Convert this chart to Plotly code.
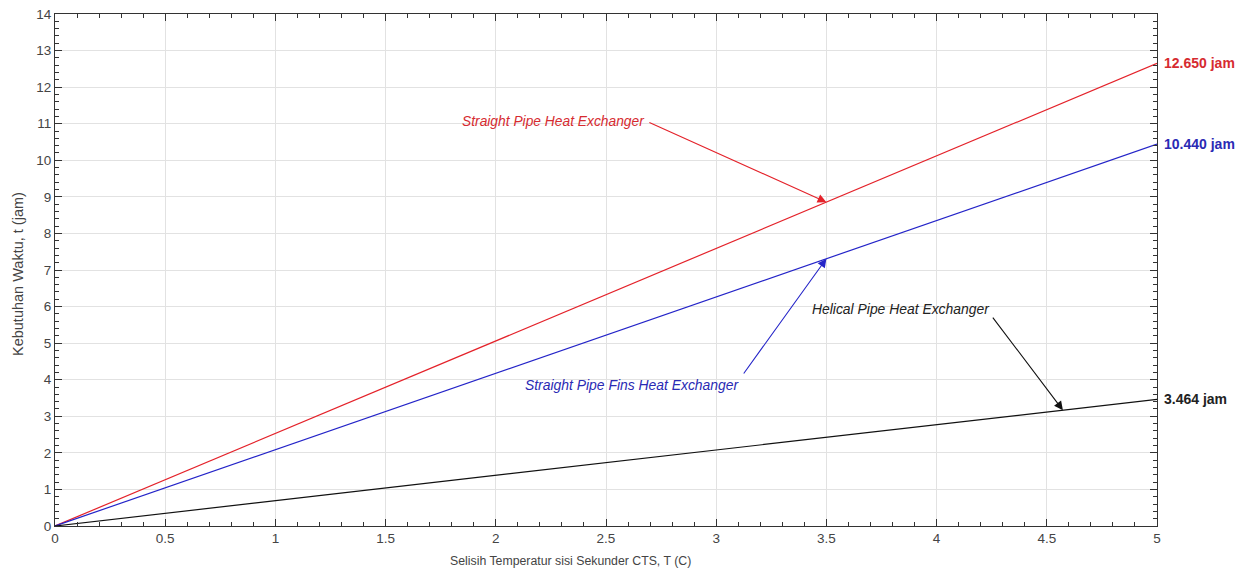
import plotly.graph_objects as go

# Data
temp_diff = [0, 5]
straight_pipe = [0, 12.650]
straight_fins = [0, 10.440]
helical_pipe = [0, 3.464]

end_labels = ["12.650 jam", "10.440 jam", "3.464 jam"]
series_names = ["Straight Pipe Heat Exchanger", "Straight Pipe Fins Heat Exchanger", "Helical Pipe Heat Exchanger"]
x_title = "Selisih Temperatur sisi Sekunder CTS, T (C)"
y_title = "Kebutuhan Waktu, t (jam)"

RED = "#e4222a"
BLUE = "#2424c8"
BLACK = "#111111"
RED_T = "#d62b30"
BLUE_T = "#2a2ab4"
BLACK_T = "#222222"

fig = go.Figure()
for yv, col, nm in [(straight_pipe, RED, series_names[0]),
                    (straight_fins, BLUE, series_names[1]),
                    (helical_pipe, BLACK, series_names[2])]:
    fig.add_trace(go.Scatter(x=temp_diff, y=yv, mode="lines", name=nm,
                             line=dict(color=col, width=1.2), showlegend=False))

font = "Liberation Sans, Arial, sans-serif"

anns = []
# end labels
for yv, lab, col in [(straight_pipe, end_labels[0], RED_T),
                     (straight_fins, end_labels[1], BLUE_T),
                     (helical_pipe, end_labels[2], BLACK_T)]:
    anns.append(dict(x=temp_diff[-1], y=yv[-1], xref="x", yref="y", text="<b>%s</b>" % lab,
                     showarrow=False, xanchor="left", xshift=5, yanchor="middle",
                     font=dict(family=font, size=14, color=col)))

# label texts
anns.append(dict(x=2.686, y=11.05, xref="x", yref="y", text="<i>%s</i>" % series_names[0],
                 showarrow=False, xanchor="right", yanchor="middle",
                 font=dict(family=font, size=13.8, color=RED_T)))
anns.append(dict(x=2.123, y=3.86, xref="x", yref="y", text="<i>%s</i>" % series_names[1],
                 showarrow=False, xanchor="left", yanchor="middle",
                 font=dict(family=font, size=13.9, color=BLUE_T)))
anns.append(dict(x=4.25, y=5.93, xref="x", yref="y", text="<i>%s</i>" % series_names[2],
                 showarrow=False, xanchor="right", yanchor="middle",
                 font=dict(family=font, size=13.9, color=BLACK_T)))

# arrows
for (hx, hy, tx, ty, col) in [(3.5, 8.855, 2.69, 11.05, RED),
                              (3.5, 7.31, 3.12, 4.13, BLUE),
                              (4.573, 3.168, 4.25, 5.74, BLACK)]:
    anns.append(dict(x=hx, y=hy, ax=tx, ay=ty, xref="x", yref="y", axref="x", ayref="y",
                     text="", showarrow=True, arrowhead=2, arrowsize=1.6, arrowwidth=1.1,
                     arrowcolor=col))

# axis titles
anns.append(dict(x=(570 - 55) / 1102, y=-35 / 512, xref="paper", yref="paper", text=x_title,
                 showarrow=False, xanchor="center", yanchor="middle",
                 font=dict(family=font, size=12.3, color="#444444")))
anns.append(dict(x=-37 / 1102, y=(526 - 274) / 512, xref="paper", yref="paper", text=y_title,
                 showarrow=False, xanchor="center", yanchor="middle", textangle=-90,
                 font=dict(family=font, size=14.5, color="#444444")))

tickfont = dict(family=font, size=13.5, color="#444444")
axis_common = dict(showline=True, linecolor="#333333", linewidth=1, mirror="ticks",
                   ticks="inside", ticklen=7, tickcolor="#333333", automargin=False,
                   ticklabeloverflow="allow",
                   showgrid=True, gridcolor="#e2e2e2", gridwidth=1, zeroline=False,
                   tickfont=tickfont)

fig.update_xaxes(range=[0, 5], dtick=0.5, tick0=0,
                 minor=dict(dtick=0.1, ticks="inside", ticklen=4, tickcolor="#333333", showgrid=False),
                 **axis_common)
fig.update_yaxes(range=[0, 14], dtick=1, tick0=0,
                 minor=dict(dtick=0.2, ticks="inside", ticklen=4, tickcolor="#333333", showgrid=False),
                 **axis_common)

# page body has an 8px margin, so the figure is offset by 8px
fig.update_layout(width=1236, height=563, plot_bgcolor="white", paper_bgcolor="white",
                  margin=dict(l=47, r=87, t=6, b=45), annotations=anns,
                  font=dict(family=font))

fig.write_html("out.html")
